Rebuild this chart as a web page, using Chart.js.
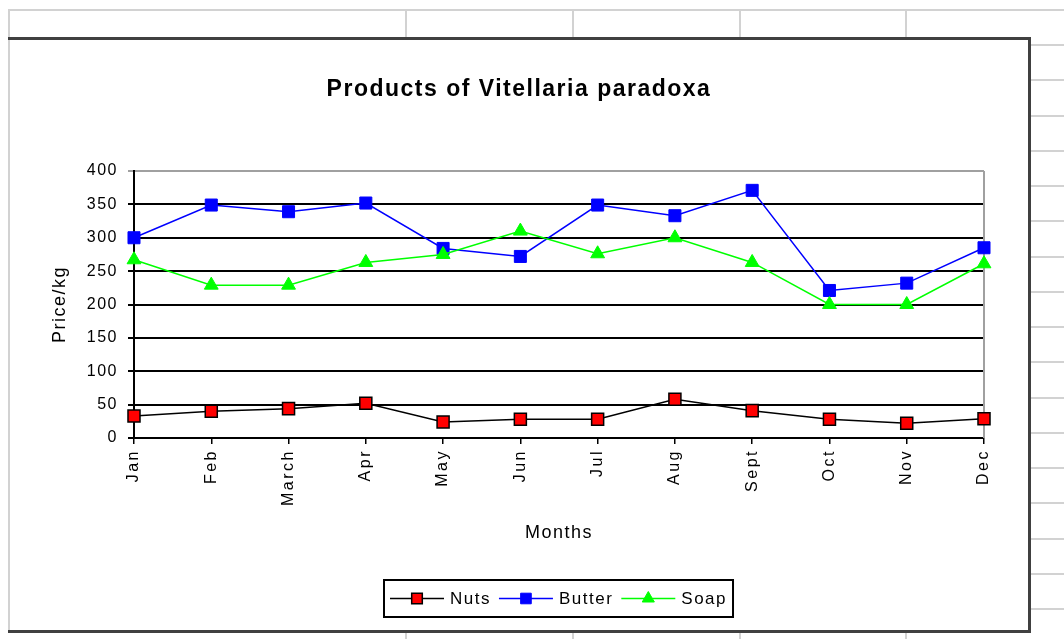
<!DOCTYPE html>
<html lang="en">
<head>
  <meta charset="UTF-8">
  <title>Products of Vitellaria paradoxa</title>
  <script src="https://cdn.jsdelivr.net/npm/chart.js"></script>
  <style>
    html, body { margin: 0; padding: 0; background: #fff; }
    body { width: 1064px; height: 639px; position: relative; overflow: hidden; }
    .cell { position: absolute; background: #d2d2d2; }
    .edge { position: absolute; background: #404040; }
    #frame { position: absolute; left: 9px; top: 38px; width: 1020px; height: 593px; background: #fff; }
    #frame canvas { position: absolute; left: 0; top: 0; }
  </style>
</head>
<body>
  <div id="sheet"></div>
  <div id="frame"><canvas id="grafico" width="1020" height="593"></canvas></div>
  <!-- borda do objeto: esquerda clara, resto escuro -->
  <div class="cell" style="left:8px;top:38px;width:2px;height:594px"></div>
  <div class="edge" style="left:8px;top:37px;width:1023px;height:3px"></div>
  <div class="edge" style="left:1028px;top:37px;width:3px;height:596px"></div>
  <div class="edge" style="left:8px;top:630px;width:1023px;height:3px"></div>

<script>
  // dados
  const months = ['Jan', 'Feb', 'March', 'Apr', 'May', 'Jun', 'Jul', 'Aug', 'Sept', 'Oct', 'Nov', 'Dec'];
  const nuts   = [33, 40, 44, 52, 24, 28, 28, 58, 41, 28, 22, 29];
  const butter = [300, 349, 339, 352, 284, 272, 349, 333, 371, 221, 232, 285];
  const soap   = [267, 229, 229, 263, 275, 310, 276, 300, 263, 200, 200, 261];
  const yMin = 0, yMax = 400, yStep = 50;

  // linhas de planilha no fundo
  var sheet = document.getElementById('sheet');
  function cell(l, t, w, h) {
    var d = document.createElement('div');
    d.className = 'cell';
    d.style.cssText = 'left:' + l + 'px;top:' + t + 'px;width:' + w + 'px;height:' + h + 'px';
    sheet.appendChild(d);
  }
  cell(8, 9, 1056, 2);
  [8, 405, 572, 739, 905].forEach(function (x) { cell(x, 9, 2, 30); });
  [405, 572, 739, 905].forEach(function (x) { cell(x, 632, 2, 7); });
  for (var k = 0; k < 17; k++) { cell(1031, Math.round(44 + k * 35.25), 33, 2); }

  Chart.defaults.font.family = "'Liberation Sans', Arial, Helvetica, sans-serif";
  Chart.defaults.color = '#000';

  // espacamento das letras como no original
  const espacamento = {
    id: 'espacamento',
    beforeDraw(chart) { chart.ctx.letterSpacing = '1.5px'; },
    afterDatasetsDraw(chart) { chart.ctx.letterSpacing = '2.5px'; },
    afterDraw(chart) { chart.ctx.letterSpacing = '0px'; }
  };

  // borda direita da area do grafico (cinza)
  const bordaDireita = {
    id: 'bordaDireita',
    beforeDatasetsDraw(chart) {
      const a = chart.chartArea, ctx = chart.ctx;
      ctx.save();
      ctx.strokeStyle = '#a0a0a0';
      ctx.lineWidth = 2;
      ctx.beginPath();
      ctx.moveTo(a.right, a.top);
      ctx.lineTo(a.right, a.bottom);
      ctx.stroke();
      ctx.restore();
    }
  };

  // legenda em caixa com linha + marcador
  const legendaCaixa = {
    id: 'legendaCaixa',
    afterDraw(chart) {
      const ctx = chart.ctx, a = chart.chartArea;
      ctx.save();
      ctx.letterSpacing = '1.5px';
      ctx.font = "17px 'Liberation Sans', Arial, sans-serif";
      const seg = 54, gap = 6, entre = 8, margem = 6, alto = 37;
      const itens = chart.data.datasets.map(ds => ({ ds: ds, w: ctx.measureText(ds.label).width }));
      let total = margem * 2;
      itens.forEach((it, i) => { total += seg + gap + it.w + (i ? entre : 0); });
      const x0 = Math.round((a.left + a.right) / 2 - total / 2);
      const y0 = chart.height - 51;
      const yc = y0 + alto / 2;
      ctx.strokeStyle = '#000';
      ctx.lineWidth = 2;
      ctx.strokeRect(x0, y0, total, alto);
      let x = x0 + margem;
      itens.forEach((it, i) => {
        if (i) x += entre;
        const ds = it.ds;
        ctx.strokeStyle = ds.borderColor;
        ctx.lineWidth = ds.borderWidth;
        ctx.beginPath();
        ctx.moveTo(x, yc);
        ctx.lineTo(x + seg, yc);
        ctx.stroke();
        ctx.fillStyle = ds.pointBackgroundColor;
        ctx.strokeStyle = ds.pointBorderColor;
        ctx.lineWidth = ds.pointBorderWidth;
        Chart.helpers.drawPoint(ctx, { pointStyle: ds.pointStyle, radius: ds.pointRadius - 1, rotation: 0, borderWidth: ds.pointBorderWidth }, x + seg / 2, yc);
        x += seg + gap;
        ctx.fillStyle = '#000';
        ctx.textBaseline = 'middle';
        ctx.textAlign = 'left';
        ctx.fillText(ds.label, x, yc + 1);
        x += it.w;
      });
      ctx.restore();
    }
  };

  const config = {
    type: 'line',
    data: {
      labels: months,
      datasets: [
        { label: 'Nuts', data: nuts, borderColor: '#000000', borderWidth: 1.5, tension: 0, clip: false, order: 2,
          pointStyle: 'rect', pointRadius: 8.5, pointHoverRadius: 8.5,
          pointBackgroundColor: '#ff0000', pointBorderColor: '#000000', pointBorderWidth: 1.5 },
        { label: 'Butter', data: butter, borderColor: '#0000ff', borderWidth: 1.5, tension: 0, clip: false, order: 1,
          pointStyle: 'rect', pointRadius: 8.5, pointHoverRadius: 8.5,
          pointBackgroundColor: '#0000ff', pointBorderColor: '#0000ff', pointBorderWidth: 1 },
        { label: 'Soap', data: soap, borderColor: '#00ff00', borderWidth: 1.5, tension: 0, clip: false, order: 0,
          pointStyle: 'triangle', pointRadius: 8, pointHoverRadius: 8,
          pointBackgroundColor: '#00ff00', pointBorderColor: '#00ff00', pointBorderWidth: 1 }
      ]
    },
    options: {
      responsive: false,
      animation: false,
      devicePixelRatio: 1,
      events: [],
      layout: { padding: { left: 0, right: 0, top: 0, bottom: 73 } },
      plugins: {
        legend: { display: false },
        tooltip: { enabled: false },
        title: {
          display: true,
          text: 'Products of Vitellaria paradoxa',
          color: '#000',
          font: { size: 23, weight: 'bold' },
          padding: { top: 38, bottom: 67.4 }
        }
      },
      scales: {
        x: {
          offset: false,
          grid: { display: true, drawOnChartArea: false, drawTicks: true, tickLength: 6, color: '#000', lineWidth: 1.5 },
          border: { display: true, color: '#000', width: 2 },
          ticks: { autoSkip: false, minRotation: 90, maxRotation: 90, padding: 5, font: { size: 16 }, color: '#000', z: 1 },
          title: { display: true, text: 'Months', color: '#000', font: { size: 18 }, padding: { top: 0, bottom: 14 } },
          afterFit(s) { s.height = 120; }
        },
        y: {
          min: yMin,
          max: yMax,
          ticks: { stepSize: yStep, padding: 10, font: { size: 16 }, color: '#000' },
          grid: {
            color: c => (c.tick && c.tick.value === yMax) ? '#a0a0a0' : '#000',
            lineWidth: 2,
            tickLength: 6
          },
          border: { display: true, color: '#000', width: 2 },
          title: { display: true, text: 'Price/kg', color: '#000', font: { size: 18 }, padding: { top: 40, bottom: 0 } },
          afterFit(s) { s.width = 125; }
        },
        pad: {
          type: 'linear',
          position: 'right',
          grid: { display: false, drawTicks: false },
          ticks: { display: false },
          border: { display: false },
          afterFit(s) { s.width = 45; }
        }
      }
    },
    plugins: [espacamento, bordaDireita, legendaCaixa]
  };

  new Chart(document.getElementById('grafico'), config);
</script>
</body>
</html>
